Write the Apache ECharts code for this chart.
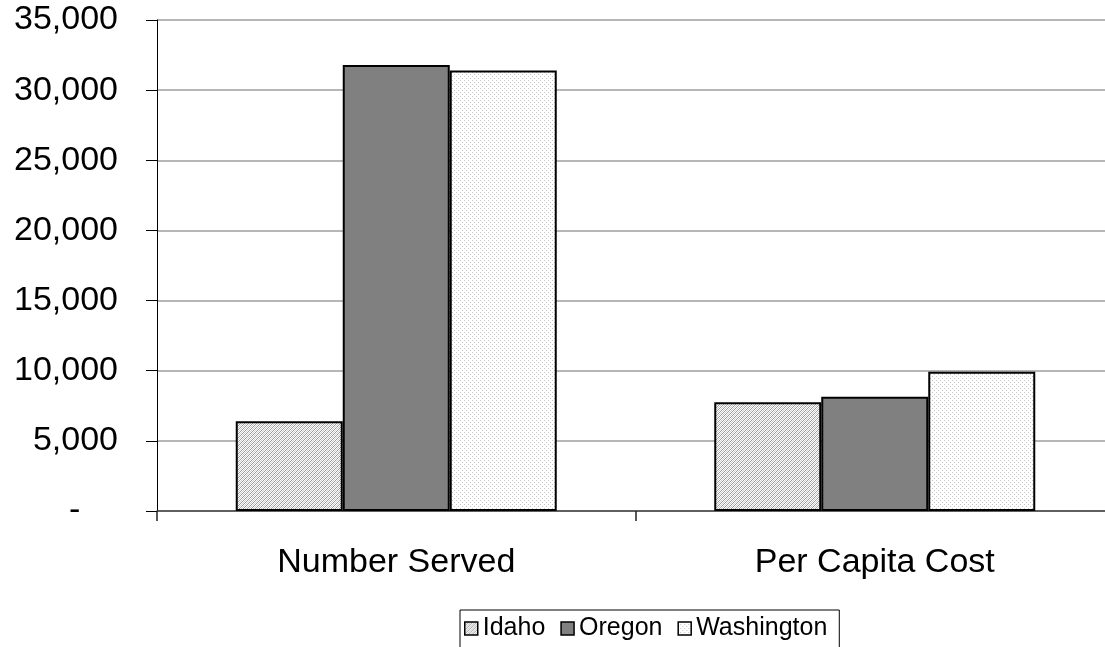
<!DOCTYPE html>
<html>
<head>
<meta charset="utf-8">
<script src="https://cdn.jsdelivr.net/npm/echarts@6/dist/echarts.min.js"></script>
<style>
  html, body { margin: 0; padding: 0; background: #fff; overflow: hidden; width: 1105px; height: 647px; }
  #chart { width: 1114px; height: 647px; }
</style>
</head>
<body>
<div id="chart"></div>
<script>
// Program totals by state
const categories = ['Number Served', 'Per Capita Cost'];
const idaho = [6400, 7750];
const oregon = [31800, 8150];
const washington = [31400, 9930];
const yTicks = [0, 5000, 10000, 15000, 20000, 25000, 30000, 35000];

const FONT = "'Liberation Sans', Arial, sans-serif";

// Fine upward-diagonal hatch fill
function hatchPattern() {
  const c = document.createElement('canvas');
  c.width = 4; c.height = 4;
  const g = c.getContext('2d');
  g.fillStyle = '#ffffff';
  g.fillRect(0, 0, 4, 4);
  g.fillStyle = '#9a9a9a';
  for (let x = 0; x < 4; x++) {
    g.fillRect(x, 3 - x, 1, 1);
  }
  g.fillStyle = '#c8c8c8';
  for (let x = 0; x < 4; x++) {
    g.fillRect(x, (5 - x) % 4, 1, 1);
  }
  return c;
}

// Sparse light dot fill
function dotPattern() {
  const c = document.createElement('canvas');
  c.width = 4; c.height = 4;
  const g = c.getContext('2d');
  g.fillStyle = '#ffffff';
  g.fillRect(0, 0, 4, 4);
  g.fillStyle = '#c4c4c4';
  g.fillRect(0, 0, 1, 1);
  g.fillRect(2, 2, 1, 1);
  return c;
}

const chart = echarts.init(document.getElementById('chart'), null, { renderer: 'canvas' });

function fmt(v) {
  if (v === 0) return '-    ';
  return v.toString().replace(/\B(?=(\d{3})+(?!\d))/g, ',');
}

const barBase = {
  type: 'bar',
  barWidth: 107,
  barGap: '0%',
  emphasis: { disabled: true }
};

chart.setOption({
  animation: false,
  backgroundColor: '#ffffff',
  grid: { left: 157, top: 20, right: 0, bottom: 136, containLabel: false },
  legend: {
    left: 460,
    top: 610,
    padding: [6, 12, 24, 4],
    itemGap: 15,
    itemWidth: 13,
    itemHeight: 13,
    icon: 'rect',
    borderColor: '#000',
    borderWidth: 1,
    borderRadius: 0,
    textStyle: { fontFamily: FONT, fontSize: 25, color: '#000' },
    itemStyle: { borderColor: '#000', borderWidth: 1.5 },
    data: ['Idaho', 'Oregon', 'Washington']
  },
  xAxis: {
    type: 'category',
    data: categories,
    boundaryGap: true,
    axisLine: { lineStyle: { color: '#444', width: 1.5 } },
    axisTick: { show: true, length: 10, inside: false, lineStyle: { color: '#222', width: 1.5 } },
    axisLabel: { fontFamily: FONT, fontSize: 34, color: '#000', margin: 35 }
  },
  yAxis: {
    type: 'value',
    min: yTicks[0],
    max: yTicks[yTicks.length - 1],
    interval: 5000,
    axisLine: { show: true, lineStyle: { color: '#000', width: 1 } },
    axisTick: { show: true, length: 11, lineStyle: { color: '#000', width: 1 } },
    splitLine: { show: true, lineStyle: { color: '#9e9e9e', width: 1.5 } },
    axisLabel: { fontFamily: FONT, fontSize: 34, color: '#000', margin: 39, formatter: fmt }
  },
  series: [
    Object.assign({}, barBase, {
      name: 'Idaho', data: idaho,
      itemStyle: { color: { image: hatchPattern(), repeat: 'repeat' }, borderColor: '#000', borderWidth: 2 }
    }),
    Object.assign({}, barBase, {
      name: 'Oregon', data: oregon,
      itemStyle: { color: '#808080', borderColor: '#000', borderWidth: 2 }
    }),
    Object.assign({}, barBase, {
      name: 'Washington', data: washington,
      itemStyle: { color: { image: dotPattern(), repeat: 'repeat' }, borderColor: '#000', borderWidth: 2 }
    })
  ]
});
</script>
</body>
</html>
